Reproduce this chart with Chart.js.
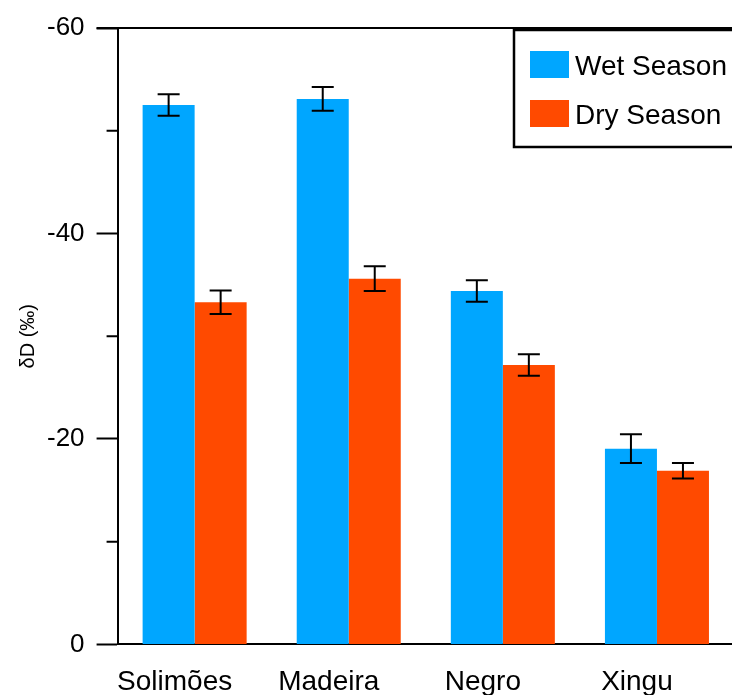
<!DOCTYPE html>
<html>
<head>
<meta charset="utf-8">
<script src="https://cdn.jsdelivr.net/npm/chart.js@4.4.1/dist/chart.umd.min.js"></script>
<style>
  html, body { margin: 0; padding: 0; background: #fff; overflow: hidden; }
  #wrap { width: 736px; height: 712px; }
</style>
</head>
<body>
<div id="wrap"><canvas id="dChart"></canvas></div>
<script>
// δD por río y estación
const rivers = ['Solimões', 'Madeira', 'Negro', 'Xingu'];
const wetSeason = [-52.5, -53.1, -34.4, -19.05];
const wetErr = [1.05, 1.15, 1.05, 1.4];
const drySeason = [-33.3, -35.6, -27.2, -16.9];
const dryErr = [1.15, 1.2, 1.05, 0.75];

const FONT = "'Liberation Sans', Arial, sans-serif";

// barras de error
const errorBars = {
  id: 'errorBars',
  afterDatasetsDraw(chart) {
    const ctx = chart.ctx;
    const yScale = chart.scales.y;
    ctx.save();
    ctx.strokeStyle = '#000';
    ctx.lineWidth = 2;
    chart.data.datasets.forEach((ds, i) => {
      chart.getDatasetMeta(i).data.forEach((bar, j) => {
        const v = ds.data[j], e = ds.errors[j];
        const y1 = yScale.getPixelForValue(v - e);
        const y2 = yScale.getPixelForValue(v + e);
        ctx.beginPath();
        ctx.moveTo(bar.x, y1); ctx.lineTo(bar.x, y2);
        ctx.moveTo(bar.x - 11, y1); ctx.lineTo(bar.x + 11, y1);
        ctx.moveTo(bar.x - 11, y2); ctx.lineTo(bar.x + 11, y2);
        ctx.stroke();
      });
    });
    ctx.restore();
  }
};

// marco superior, ticks menores y leyenda
const frame = {
  id: 'frame',
  afterDraw(chart) {
    const ctx = chart.ctx;
    const area = chart.chartArea;
    const yScale = chart.scales.y;
    ctx.save();
    ctx.strokeStyle = '#000';
    ctx.lineWidth = 2;
    ctx.beginPath();
    ctx.moveTo(area.left - 21, area.top);
    ctx.lineTo(area.right, area.top);
    yScale.ticks.forEach(t => {
      if (t.value % 20 !== 0) {
        const y = yScale.getPixelForValue(t.value);
        ctx.moveTo(area.left - 11, y);
        ctx.lineTo(area.left, y);
      }
    });
    ctx.stroke();

    // leyenda
    const lx = 514, ly = 30;
    ctx.fillStyle = '#fff';
    ctx.fillRect(lx, ly, 300, 117);
    ctx.lineWidth = 2.5;
    ctx.strokeRect(lx, ly, 300, 117);
    ctx.font = '28px ' + FONT;
    ctx.textBaseline = 'alphabetic';
    chart.data.datasets.forEach((ds, i) => {
      const sy = ly + 21 + i * 49;
      ctx.fillStyle = ds.backgroundColor;
      ctx.fillRect(lx + 16, sy, 39, 27);
      ctx.fillStyle = '#000';
      ctx.fillText(ds.label, lx + 61, sy + 24);
    });
    ctx.restore();
  }
};

new Chart(document.getElementById('dChart'), {
  type: 'bar',
  data: {
    labels: rivers,
    datasets: [
      { label: 'Wet Season', data: wetSeason, errors: wetErr, backgroundColor: 'rgb(0,166,255)' },
      { label: 'Dry Season', data: drySeason, errors: dryErr, backgroundColor: 'rgb(255,74,0)' }
    ]
  },
  options: {
    responsive: true,
    maintainAspectRatio: false,
    animation: false,
    layout: { padding: { left: 0, top: 28, right: 2, bottom: 0 } },
    plugins: { legend: { display: false }, tooltip: { enabled: false } },
    datasets: { bar: { barPercentage: 1, categoryPercentage: 0.675, borderWidth: 0 } },
    scales: {
      x: {
        grid: { display: false },
        border: { display: true, color: '#000', width: 2 },
        ticks: { color: '#000', font: { family: FONT, size: 28 }, padding: 13, labelOffset: -20, maxRotation: 0 }
      },
      y: {
        reverse: true,
        min: -60,
        max: 0,
        grid: {
          drawOnChartArea: false,
          tickLength: 21,
          tickWidth: 2,
          tickColor: c => (c.tick && c.tick.value % 20 === 0) ? '#000' : 'rgba(0,0,0,0)'
        },
        border: { display: true, color: '#000', width: 2 },
        ticks: {
          stepSize: 10,
          color: '#000',
          padding: 12,
          font: { family: FONT, size: 26 },
          callback: v => (v % 20 === 0 ? String(v) : '')
        },
        title: {
          display: true,
          text: 'δD (‰)',
          color: '#000',
          font: { family: FONT, size: 20 },
          padding: { top: 16, bottom: -5 }
        }
      }
    }
  },
  plugins: [errorBars, frame]
});
</script>
</body>
</html>
